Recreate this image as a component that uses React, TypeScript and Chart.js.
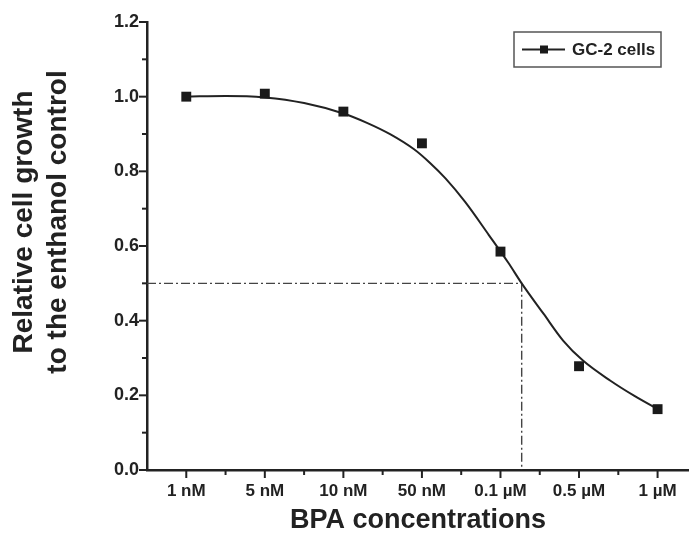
import React, { useEffect, useRef } from 'react';
import { Chart, registerables } from 'chart.js';

Chart.register(...registerables);

// ---- data ----
const categories = ['1 nM', '5 nM', '10 nM', '50 nM', '0.1 µM', '0.5 µM', '1 µM'];
const growth = [1.0, 1.008, 0.96, 0.875, 0.585, 0.278, 0.163];
const seriesName = 'GC-2 cells';

// fitted curve (x = category position, y = value)
const curveX = [0, 0.5, 1.0, 1.5, 2.0, 2.3, 2.6, 2.9, 3.1, 3.3, 3.55, 3.85, 4.1, 4.27, 4.55, 4.8, 5.05, 5.4, 5.7, 6.0];
const curveY = [1.0, 1.002, 0.998, 0.983, 0.955, 0.93, 0.899, 0.859, 0.823, 0.781, 0.718, 0.63, 0.555, 0.5, 0.418, 0.346, 0.293, 0.239, 0.199, 0.163];

// half-inhibition guide
const cutoffLevel = 0.5;
const ic50Position = 4.27;

const yTitleLines = ['Relative cell growth', 'to the enthanol control'];
const xTitle = 'BPA concentrations';
const yTickValues = [0, 0.2, 0.4, 0.6, 0.8, 1.0, 1.2];

const INK = '#222222';
const FONT = '"Liberation Sans", Arial, sans-serif';

export default function App() {
  const ref = useRef<HTMLCanvasElement | null>(null);

  useEffect(() => {
    const canvas = ref.current;
    if (!canvas) return;

    const decorPlugin = {
      id: 'decor',
      afterDraw(chart: any) {
        const c = chart.ctx as CanvasRenderingContext2D;
        const area = chart.chartArea;
        const xs = chart.scales.x;
        const ys = chart.scales.y;
        c.save();
        c.strokeStyle = INK;
        c.lineWidth = 2;
        // y ticks (major + minor)
        ys.ticks.forEach((t: any) => {
          const p = ys.getPixelForValue(t.value);
          const major = Math.round(t.value * 10) % 2 === 0;
          const len = major ? 8 : 5;
          c.beginPath();
          c.moveTo(area.left - len, p);
          c.lineTo(area.left, p);
          c.stroke();
        });
        // x ticks (major at categories, minor halfway)
        xs.ticks.forEach((t: any) => {
          const v = t.value;
          if (v < 0 || v > categories.length - 1) return;
          const twice = Math.round(v * 2);
          if (Math.abs(v * 2 - twice) > 1e-6) return;
          const len = twice % 2 === 0 ? 8 : 5;
          const p = xs.getPixelForValue(v);
          c.beginPath();
          c.moveTo(p, area.bottom);
          c.lineTo(p, area.bottom + len);
          c.stroke();
        });

        // y title (two lines, rotated)
        c.fillStyle = INK;
        c.font = `bold 28px ${FONT}`;
        c.textAlign = 'center';
        c.textBaseline = 'middle';
        const lineX = [24, 58];
        yTitleLines.forEach((line, i) => {
          c.save();
          c.translate(lineX[i], 222);
          c.rotate(-Math.PI / 2);
          c.fillText(line, 0, 0);
          c.restore();
        });

        // legend box
        const lx = area.right - 175;
        const ly = area.top + 10;
        const lw = 147;
        const lh = 35;
        c.strokeStyle = '#555555';
        c.lineWidth = 1.5;
        c.strokeRect(lx, ly, lw, lh);
        const cy = ly + lh / 2;
        c.strokeStyle = INK;
        c.lineWidth = 2;
        c.beginPath();
        c.moveTo(lx + 8, cy);
        c.lineTo(lx + 51, cy);
        c.stroke();
        c.fillStyle = '#1a1a1a';
        c.fillRect(lx + 26, cy - 4, 8, 8);
        c.fillStyle = INK;
        c.font = `bold 17px ${FONT}`;
        c.textAlign = 'left';
        c.textBaseline = 'middle';
        c.fillText(seriesName, lx + 58, cy + 1);
        c.restore();
      },
    };

    const chart = new Chart(canvas, {
      type: 'line',
      data: {
        datasets: [
          {
            label: 'guide',
            data: [
              { x: -0.5, y: cutoffLevel },
              { x: ic50Position, y: cutoffLevel },
              { x: ic50Position, y: 0 },
            ],
            borderColor: '#444444',
            borderWidth: 1.4,
            borderDash: [9, 3, 2, 3],
            pointRadius: 0,
            tension: 0,
            order: 3,
          },
          {
            label: 'fit',
            data: curveX.map((x, i) => ({ x, y: curveY[i] })),
            borderColor: INK,
            borderWidth: 2,
            pointRadius: 0,
            cubicInterpolationMode: 'monotone',
            order: 2,
          },
          {
            label: seriesName,
            data: growth.map((y, i) => ({ x: i, y })),
            showLine: false,
            pointStyle: 'rect',
            pointRadius: 7,
            pointBackgroundColor: '#1a1a1a',
            pointBorderColor: '#1a1a1a',
            pointBorderWidth: 0,
            order: 1,
          },
        ],
      },
      options: {
        animation: false,
        responsive: false,
        maintainAspectRatio: false,
        layout: { autoPadding: false, padding: { top: 22, right: 0, left: 0, bottom: 0 } },
        plugins: {
          legend: { display: false },
          tooltip: { enabled: false },
        },
        scales: {
          x: {
            type: 'linear',
            min: -0.5,
            max: 6.4,
            afterFit: (scale: any) => {
              scale.height = 72;
              scale.paddingRight = 0;
              scale.paddingLeft = 0;
            },
            ticks: {
              stepSize: 0.5,
              includeBounds: false,
              autoSkip: false,
              maxRotation: 0,
              padding: 11,
              color: INK,
              font: { family: FONT, size: 17, weight: 'bold' },
              callback: (v: any) => {
                const n = Number(v);
                if (Math.abs(n - Math.round(n)) < 1e-6 && n >= 0 && n < categories.length) {
                  return categories[Math.round(n)];
                }
                return '';
              },
            },
            grid: { display: true, drawOnChartArea: false, drawTicks: false },
            border: { color: INK, width: 2.5 },
            title: {
              display: true,
              text: xTitle,
              color: INK,
              font: { family: FONT, size: 27, weight: 'bold' },
              padding: { top: 0, bottom: 5 },
            },
          },
          y: {
            type: 'linear',
            min: 0,
            max: 1.2,
            afterFit: (scale: any) => {
              scale.width = 147;
            },
            ticks: {
              stepSize: 0.1,
              autoSkip: false,
              padding: 8,
              color: INK,
              font: { family: FONT, size: 18, weight: 'bold' },
              callback: (v: any) => {
                const n = Number(v);
                const hit = yTickValues.find((t) => Math.abs(t - n) < 1e-6);
                return hit === undefined ? '' : hit.toFixed(1);
              },
            },
            grid: { display: true, drawOnChartArea: false, drawTicks: false },
            border: { color: INK, width: 2.5 },
          },
        },
      },
      plugins: [decorPlugin],
    } as any);

    return () => {
      chart.destroy();
    };
  }, []);

  return (
    <div style={{ position: 'fixed', left: 0, top: 0, width: 689, height: 542, background: '#fff' }}>
      <canvas ref={ref} width={689} height={542} style={{ width: 689, height: 542, display: 'block' }} />
    </div>
  );
}
